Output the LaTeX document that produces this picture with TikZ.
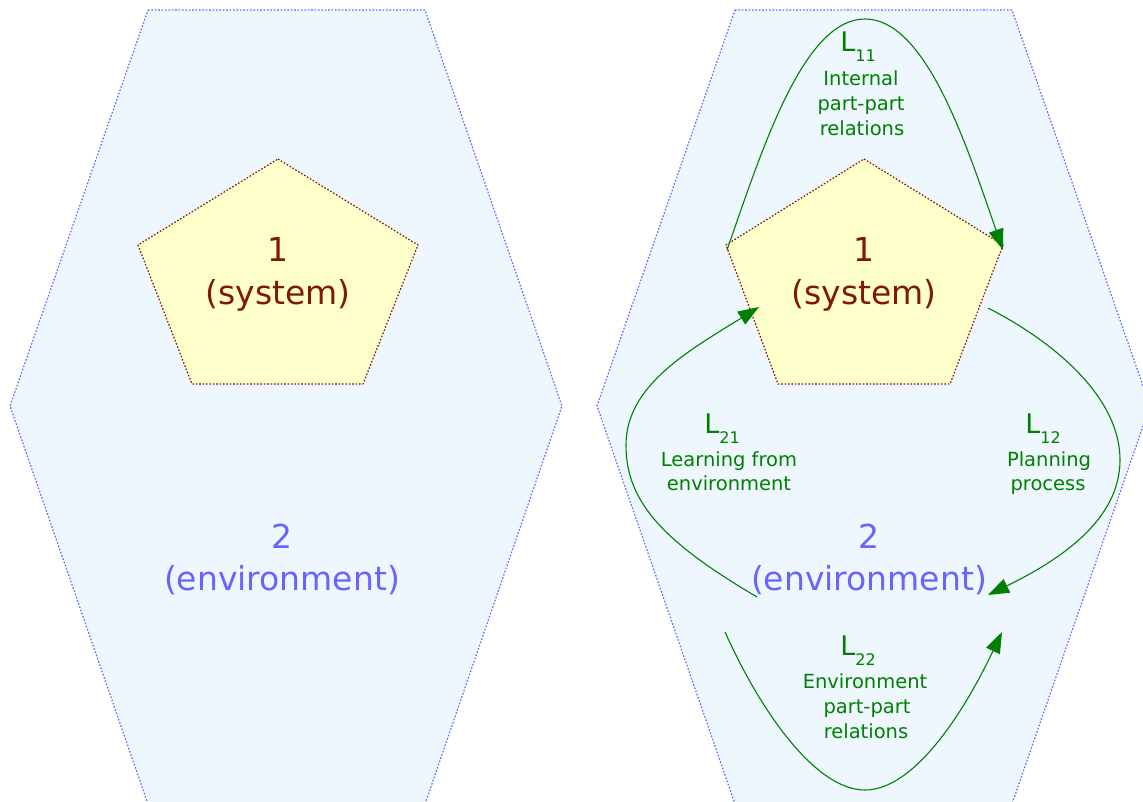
\documentclass[tikz,border=0pt]{standalone}
\usepackage{fontspec}
\setmainfont{DejaVu Sans}
\usetikzlibrary{arrows.meta}
\definecolor{hexfill}{HTML}{EEF6FE}
\definecolor{hexline}{HTML}{6666FF}
\definecolor{envtext}{HTML}{6666FF}
\definecolor{pentfill}{HTML}{FFFFCC}
\definecolor{pentline}{HTML}{7F1A00}
\definecolor{systext}{HTML}{7F1A00}
\definecolor{linkgreen}{HTML}{008000}
\begin{document}
\begin{tikzpicture}[x=1pt,y=-1pt,
  hexagon/.style={fill=hexfill,draw=hexline,line width=1.2pt,dash pattern=on 1.6pt off 1.8pt},
  pentagon/.style={fill=pentfill,draw=pentline,line width=1.2pt,dash pattern=on 1.6pt off 1.8pt},
  systxt/.style={anchor=base,inner sep=0pt,text=systext,font=\fontsize{33}{40}\selectfont},
  envtxt/.style={anchor=base,inner sep=0pt,text=envtext,font=\fontsize{33}{40}\selectfont},
  lbl/.style={anchor=base,inner sep=0pt,text=linkgreen,font=\fontsize{19.5}{24}\selectfont},
  lname/.style={anchor=base,inner sep=0pt,text=linkgreen,font=\fontsize{27}{30}\selectfont},
  link/.style={draw=linkgreen,line width=1.1pt,-{Triangle[length=21pt,width=15pt]}}
]
\clip (0,0) rectangle (1143,802);
\fill[white] (0,0) rectangle (1143,802);

% hexagons (environment)
\draw[hexagon] (148,10) -- (425,10) -- (562,406) -- (425,804) -- (148,804) -- (10,406) -- cycle;
\draw[hexagon] (735,10) -- (1012,10) -- (1150,406) -- (1012,804) -- (735,804) -- (597,406) -- cycle;

% pentagons (system)
\draw[pentagon] (278,159) -- (418,245) -- (363,384) -- (192,384) -- (138,245) -- cycle;
\draw[pentagon] (864,159) -- (1003,245) -- (950,384) -- (778,384) -- (726,245) -- cycle;

% texts, left
\node[systxt] (lsysa) at (278,262) {1};
\node[systxt] (lsysb) at (278,305) {(system)};
\node[envtxt] (lenva) at (282,548) {2};
\node[envtxt] (lenvb) at (282,590) {(environment)};

% texts, right
\node[systxt] (rsysa) at (864,262) {1};
\node[systxt] (rsysb) at (864,305) {(system)};
\node[envtxt] (renva) at (869,548) {2};
\node[envtxt] (renvb) at (869,590) {(environment)};

% connector end points
\coordinate (l11s) at (727,250);
\coordinate (l11m) at (865,19);
\coordinate (l11e) at (1003,250);
\coordinate (l21s) at (757,597);
\coordinate (l21m) at (626,445);
\coordinate (l21e) at (759,307);
\coordinate (l12s) at (988,308);
\coordinate (l12m) at (1120,460);
\coordinate (l12e) at (988,595);
\coordinate (l22s) at (725,632);
\coordinate (l22m) at (865,790);
\coordinate (l22e) at (1002,632);

% connectors
\draw[link] (l11s) .. controls (762,150) and (803,19) .. (l11m) .. controls (927,19) and (968,150) .. (l11e);
\draw[link] (l21s) .. controls (660,540) and (626,500) .. (l21m) .. controls (626,385) and (690,350) .. (l21e);
\draw[link] (l12s) .. controls (1060,345) and (1120,400) .. (l12m) .. controls (1120,520) and (1060,560) .. (l12e);
\draw[link] (l22s) .. controls (760,710) and (815,790) .. (l22m) .. controls (915,790) and (965,710) .. (l22e);

% connector labels
\node[lname] (n11) at (858,52) {L\raisebox{-10pt}{\fontsize{16}{16}\selectfont 11}};
\node[lbl] (t11a) at (861,86) {Internal};
\node[lbl] (t11b) at (861,111) {part-part};
\node[lbl] (t11c) at (862,136) {relations};

\node[lname] (n21) at (722,433) {L\raisebox{-10pt}{\fontsize{16}{16}\selectfont 21}};
\node[lbl] (t21a) at (729,466) {Learning from};
\node[lbl] (t21b) at (729,490) {environment};

\node[lname] (n12) at (1043,433) {L\raisebox{-10pt}{\fontsize{16}{16}\selectfont 12}};
\node[lbl] (t12a) at (1049,466) {Planning};
\node[lbl] (t12b) at (1048,490) {process};

\node[lname] (n22) at (858,655) {L\raisebox{-10pt}{\fontsize{16}{16}\selectfont 22}};
\node[lbl] (t22a) at (865,688) {Environment};
\node[lbl] (t22b) at (867,713) {part-part};
\node[lbl] (t22c) at (866,738) {relations};
\end{tikzpicture}
\end{document}
